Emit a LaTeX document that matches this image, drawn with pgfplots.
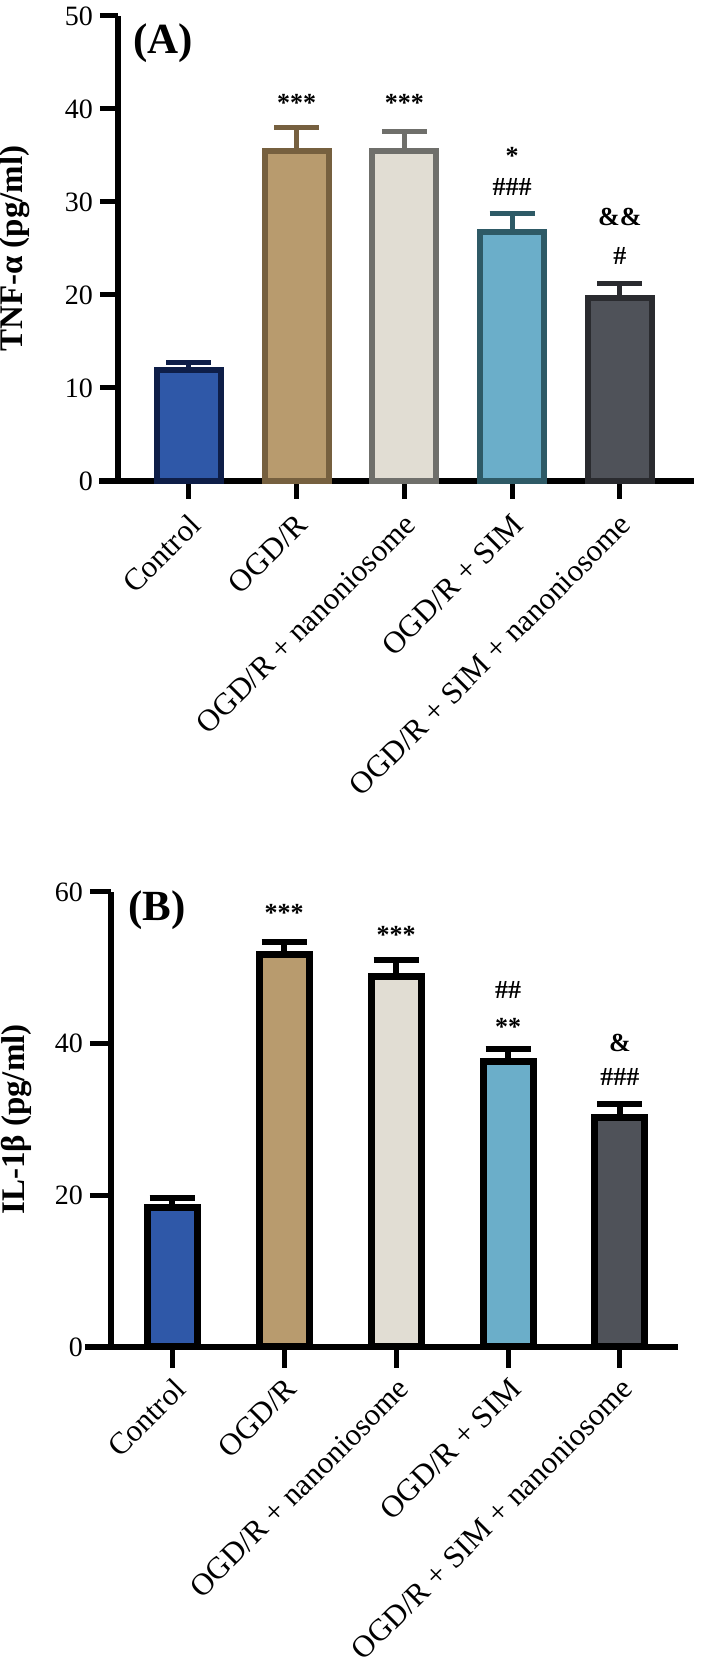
\documentclass[border=0pt]{standalone}
\usepackage{fontspec}
\setmainfont{Liberation Serif}
\usepackage{pgfplots}
\pgfplotsset{compat=1.18}

% bar fills and outlines
\definecolor{ctrlF}{HTML}{2F58A8}
\definecolor{ctrlE}{HTML}{0E1E48}
\definecolor{ogdF}{HTML}{B89B6E}
\definecolor{ogdE}{HTML}{76603F}
\definecolor{nanoF}{HTML}{E1DDD3}
\definecolor{nanoE}{HTML}{6F6F6B}
\definecolor{simF}{HTML}{6BAEC9}
\definecolor{simE}{HTML}{2E5A66}
\definecolor{combF}{HTML}{4F5259}
\definecolor{combE}{HTML}{2A2B2F}

\pgfplotsset{
  panel/.style={
    scale only axis, ybar,
    axis x line*=bottom, axis y line*=left,
    axis line style={line width=3pt, black},
    tick align=outside,
    tick style={line width=2.5pt, black},
    xtick={0,...,4},
    xticklabels={Control, OGD/R, OGD/R + nanoniosome, OGD/R + SIM, OGD/R + SIM + nanoniosome},
    yticklabel style={font=\fontsize{14}{17}\selectfont},
    /pgf/number format/assume math mode=true,
    ymin=0, clip=false,
    error bars/y dir=plus, error bars/y explicit,
  },
  % slanted category names; shifts come before the rotation
  catlabels/.style 2 args={
    xticklabel style={font=\fontsize{15.5}{18}\selectfont, xshift=#1, yshift=#2,
      rotate=45, anchor=north east, inner sep=0pt}},
}
\tikzset{ann/.style={font=\bfseries\fontsize{13}{15}\selectfont, inner sep=0pt}}

% one bar with its upper error bar: fill, outline, line width, bar width, error colour, error width
\newcommand{\onebar}[6]{%
  \addplot[fill=#1, draw=#2, line width=#3, bar width=#4, bar shift=0pt,
    error bars/error bar style={line width=#6, #5},
    error bars/error mark options={rotate=90, line width=#6, #5, mark size=11.25pt}]}

\begin{document}
\begin{tikzpicture}
\useasboundingbox (0,0) rectangle (352pt,829.5pt);

% ---------- (A) TNF-alpha ----------
\begin{axis}[panel, catlabels={-1pt}{-6.5pt},
  at={(59pt,589pt)}, anchor=south west,
  width=288pt, height=232.5pt,
  xmin=-0.659, xmax=4.689, ymax=50, ytick={0,10,...,50},
  major tick length=9pt,
  x axis line style={shorten <=-9.5pt},
  every axis y label/.style={at={(rel axis cs:0,0.5)}, xshift=-51.5pt, rotate=90, anchor=center,
    font=\bfseries\fontsize{16.5}{20}\selectfont},
  ylabel={TNF-α (pg/ml)},
]
\onebar{ctrlF}{ctrlE}{3pt}{32pt}{ctrlE}{2.5pt} coordinates {(0,11.9) +- (0,0.8)};
\onebar{ogdF}{ogdE}{3pt}{32pt}{ogdE}{2.5pt} coordinates {(1,35.5) +- (0,2.5)};
\onebar{nanoF}{nanoE}{3pt}{32pt}{nanoE}{2.5pt} coordinates {(2,35.5) +- (0,2.1)};
\onebar{simF}{simE}{3pt}{32pt}{simE}{2.5pt} coordinates {(3,26.8) +- (0,2.0)};
\onebar{combF}{combE}{3pt}{32pt}{combE}{2.5pt} coordinates {(4,19.7) +- (0,1.5)};
\node[ann] at (axis cs:1,40.6) {***};
\node[ann] at (axis cs:2,40.6) {***};
\node[ann] at (axis cs:3,35.0) {*};
\node[ann] at (axis cs:3,31.6) {\#\#\#};
\node[ann] at (axis cs:4,28.4) {\&\&};
\node[ann] at (axis cs:4,24.2) {\#};
\end{axis}
\node[anchor=west, inner sep=0pt, font=\bfseries\fontsize{21.5}{24}\selectfont] at (66.5pt,807.75pt) {(A)};

% ---------- (B) IL-1beta ----------
\begin{axis}[panel, catlabels={0pt}{-4pt},
  at={(55.5pt,156pt)}, anchor=south west,
  width=283.5pt, height=227.5pt,
  xmin=-0.545, xmax=4.518, ymax=60, ytick={0,20,40,60},
  major tick length=10.5pt,
  x axis line style={shorten <=-13pt},
  every axis y label/.style={at={(rel axis cs:0,0.5)}, xshift=-47pt, rotate=90, anchor=center,
    font=\bfseries\fontsize{16.5}{20}\selectfont},
  ylabel={IL-1β (pg/ml)},
]
\onebar{ctrlF}{black}{3.5pt}{25pt}{black}{3pt} coordinates {(0,18.4) +- (0,1.2)};
\onebar{ogdF}{black}{3.5pt}{25pt}{black}{3pt} coordinates {(1,51.8) +- (0,1.6)};
\onebar{nanoF}{black}{3.5pt}{25pt}{black}{3pt} coordinates {(2,48.8) +- (0,2.2)};
\onebar{simF}{black}{3.5pt}{25pt}{black}{3pt} coordinates {(3,37.7) +- (0,1.6)};
\onebar{combF}{black}{3.5pt}{25pt}{black}{3pt} coordinates {(4,30.3) +- (0,1.7)};
\node[ann] at (axis cs:1,57.2) {***};
\node[ann] at (axis cs:2,54.4) {***};
\node[ann] at (axis cs:3,47.1) {\#\#};
\node[ann] at (axis cs:3,42.2) {**};
\node[ann] at (axis cs:4,40.1) {\&};
\node[ann] at (axis cs:4,35.6) {\#\#\#};
\end{axis}
\node[anchor=west, inner sep=0pt, font=\bfseries\fontsize{21.5}{24}\selectfont] at (64pt,374.25pt) {(B)};
\end{tikzpicture}
\end{document}
